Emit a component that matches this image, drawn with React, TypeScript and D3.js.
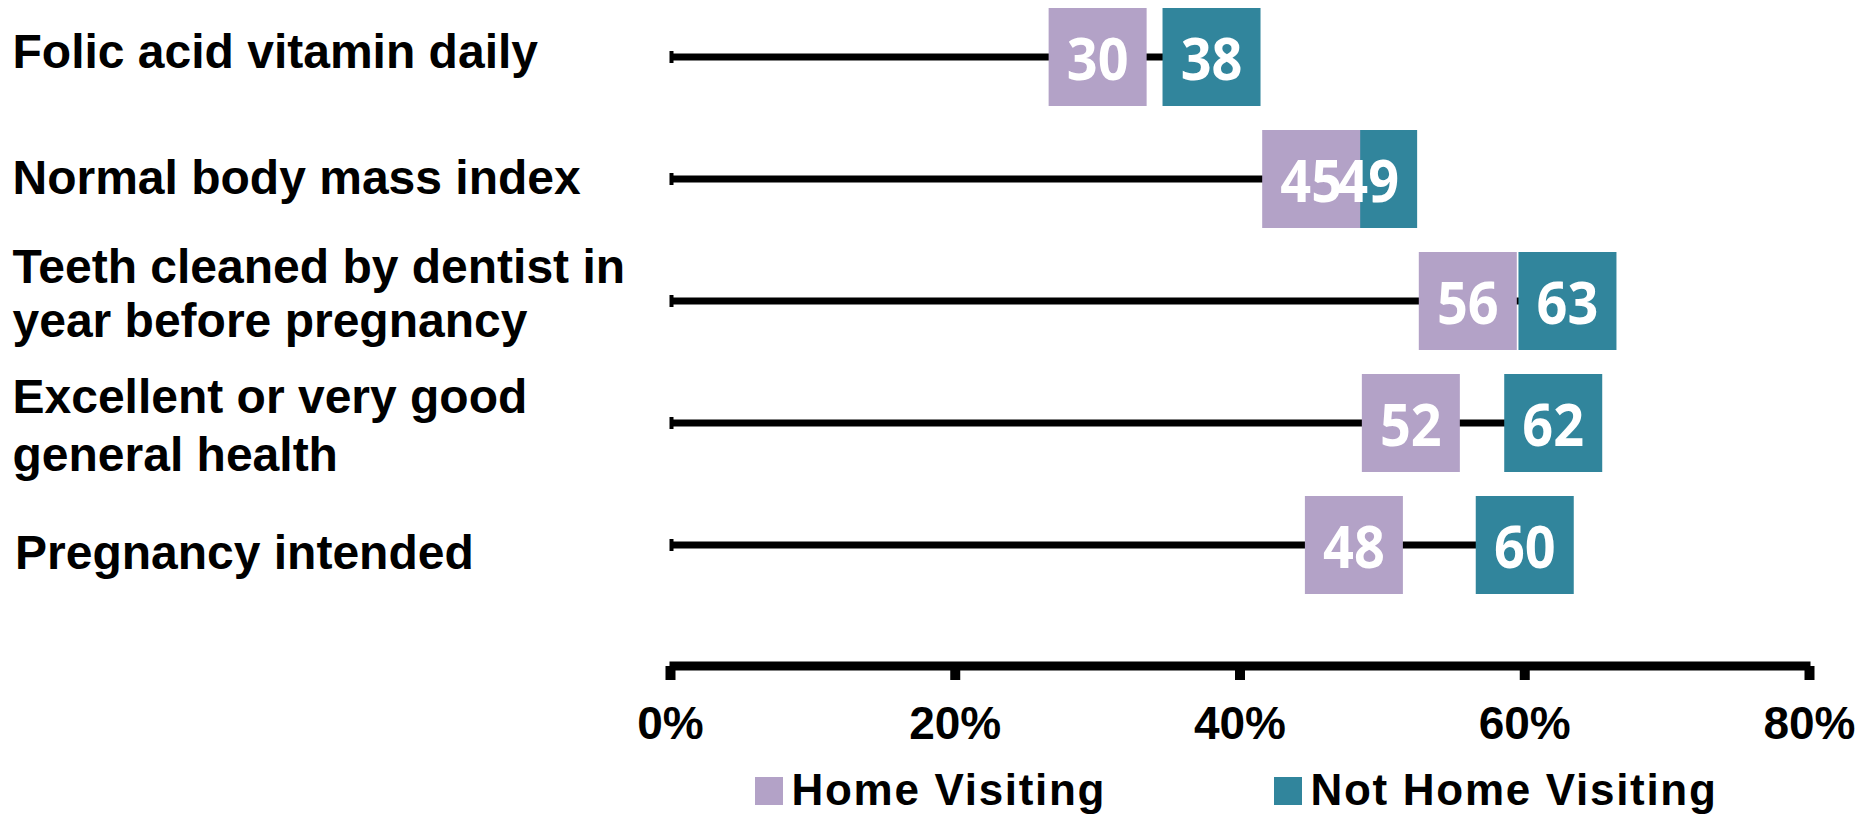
import React from "react";
import * as d3 from "d3";

const categories: string[][] = [
  ["Folic acid vitamin daily"],
  ["Normal body mass index"],
  ["Teeth cleaned by dentist in", "year before pregnancy"],
  ["Excellent or very good", "general health"],
  ["Pregnancy intended"],
];
const homeVisiting: number[] = [30, 45, 56, 52, 48];
const notHomeVisiting: number[] = [38, 49, 63, 62, 60];
const xTicks: number[] = [0, 20, 40, 60, 80];
const seriesNames: string[] = ["Home Visiting", "Not Home Visiting"];
const seriesColors: string[] = ["#B3A2C7", "#31859C"];

// layout-only: vertical nudge of each category's text block relative to its row
const labelNudge: number[] = [-6.5, -2.7, -8.5, 1.7, 6.6];
const labelLineHeight: number[] = [54.3, 54.3, 54.3, 57.5, 54.3];
const labelLeft: number[] = [12.5, 12.5, 12.5, 12.5, 15];

const W = 1868;
const H = 816;
const BOX = 98;
const LABEL_FONT = "'Liberation Sans', Arial, Helvetica, sans-serif";
const NUM_FONT = "'Open Sans', 'Noto Sans', sans-serif";

export default function App() {
  const x = d3.scaleLinear().domain([0, 80]).range([670.5, 1809.5]);
  const y = d3
    .scaleBand<number>()
    .domain(categories.map((_, i) => i))
    .range([-4, 606])
    .padding(0);
  const cy = (i: number) => (y(i) as number) + y.bandwidth() / 2;
  const axisY = 666;
  const capH = 34.4;

  const series = [homeVisiting, notHomeVisiting];
  // draw Not Home first so Home Visiting sits on top where they overlap
  const drawOrder = [1, 0];

  return (
    <div style={{ position: "absolute", left: 0, top: 0 }}>
      <svg width={W} height={H} style={{ display: "block", background: "#fff" }}>
        {/* category labels */}
        {categories.map((lines, i) => {
          const n = lines.length;
          const lh = labelLineHeight[i];
          return (
            <text
              key={"c" + i}
              fontFamily={LABEL_FONT}
              fontWeight="bold"
              fontSize={48}
              fill="#000"
            >
              {lines.map((ln, j) => (
                <tspan
                  key={j}
                  x={labelLeft[i]}
                  y={cy(i) + labelNudge[i] + capH / 2 + (j - (n - 1) / 2) * lh}
                >
                  {ln}
                </tspan>
              ))}
            </text>
          );
        })}

        {/* dumbbell lines */}
        {categories.map((_, i) => {
          const maxV = Math.max(homeVisiting[i], notHomeVisiting[i]);
          return (
            <g key={"l" + i}>
              <line
                x1={x(0)}
                x2={x(maxV)}
                y1={cy(i)}
                y2={cy(i)}
                stroke="#000"
                strokeWidth={7}
              />
              <line
                x1={x(0) + 1}
                x2={x(0) + 1}
                y1={cy(i) - 6}
                y2={cy(i) + 6}
                stroke="#000"
                strokeWidth={4}
              />
            </g>
          );
        })}

        {/* boxes */}
        {drawOrder.map((s) =>
          series[s].map((v, i) => (
            <rect
              key={"b" + s + "-" + i}
              x={x(v) - BOX / 2}
              y={cy(i) - BOX / 2}
              width={BOX}
              height={BOX}
              fill={seriesColors[s]}
            />
          ))
        )}

        {/* box labels */}
        {drawOrder.map((s) =>
          series[s].map((v, i) => (
            <text
              key={"t" + s + "-" + i}
              transform={`translate(${x(v)},${cy(i) + 23.4}) scale(0.9,1)`}
              textAnchor="middle"
              fontFamily={NUM_FONT}
              fontWeight="bold"
              fontSize={60}
              fill="#fff"
            >
              {v}
            </text>
          ))
        )}

        {/* x axis */}
        <line
          x1={x(0) - 1}
          x2={x(80) + 1}
          y1={axisY}
          y2={axisY}
          stroke="#000"
          strokeWidth={9}
        />
        {xTicks.map((t) => (
          <g key={"x" + t}>
            <line
              x1={x(t)}
              x2={x(t)}
              y1={axisY}
              y2={680}
              stroke="#000"
              strokeWidth={10}
            />
            <text
              x={x(t)}
              y={739.3}
              textAnchor="middle"
              fontFamily={LABEL_FONT}
              fontWeight="bold"
              fontSize={46}
              fill="#000"
            >
              {t + "%"}
            </text>
          </g>
        ))}

        {/* legend */}
        {seriesNames.map((name, s) => {
          const lx = s === 0 ? 755 : 1274;
          return (
            <g key={"lg" + s}>
              <rect x={lx} y={777} width={28} height={28} fill={seriesColors[s]} />
              <text
                x={lx + 36.5}
                y={805}
                fontFamily={LABEL_FONT}
                fontWeight="bold"
                fontSize={44}
                letterSpacing={1.7}
                fill="#000"
              >
                {name}
              </text>
            </g>
          );
        })}
      </svg>
    </div>
  );
}
